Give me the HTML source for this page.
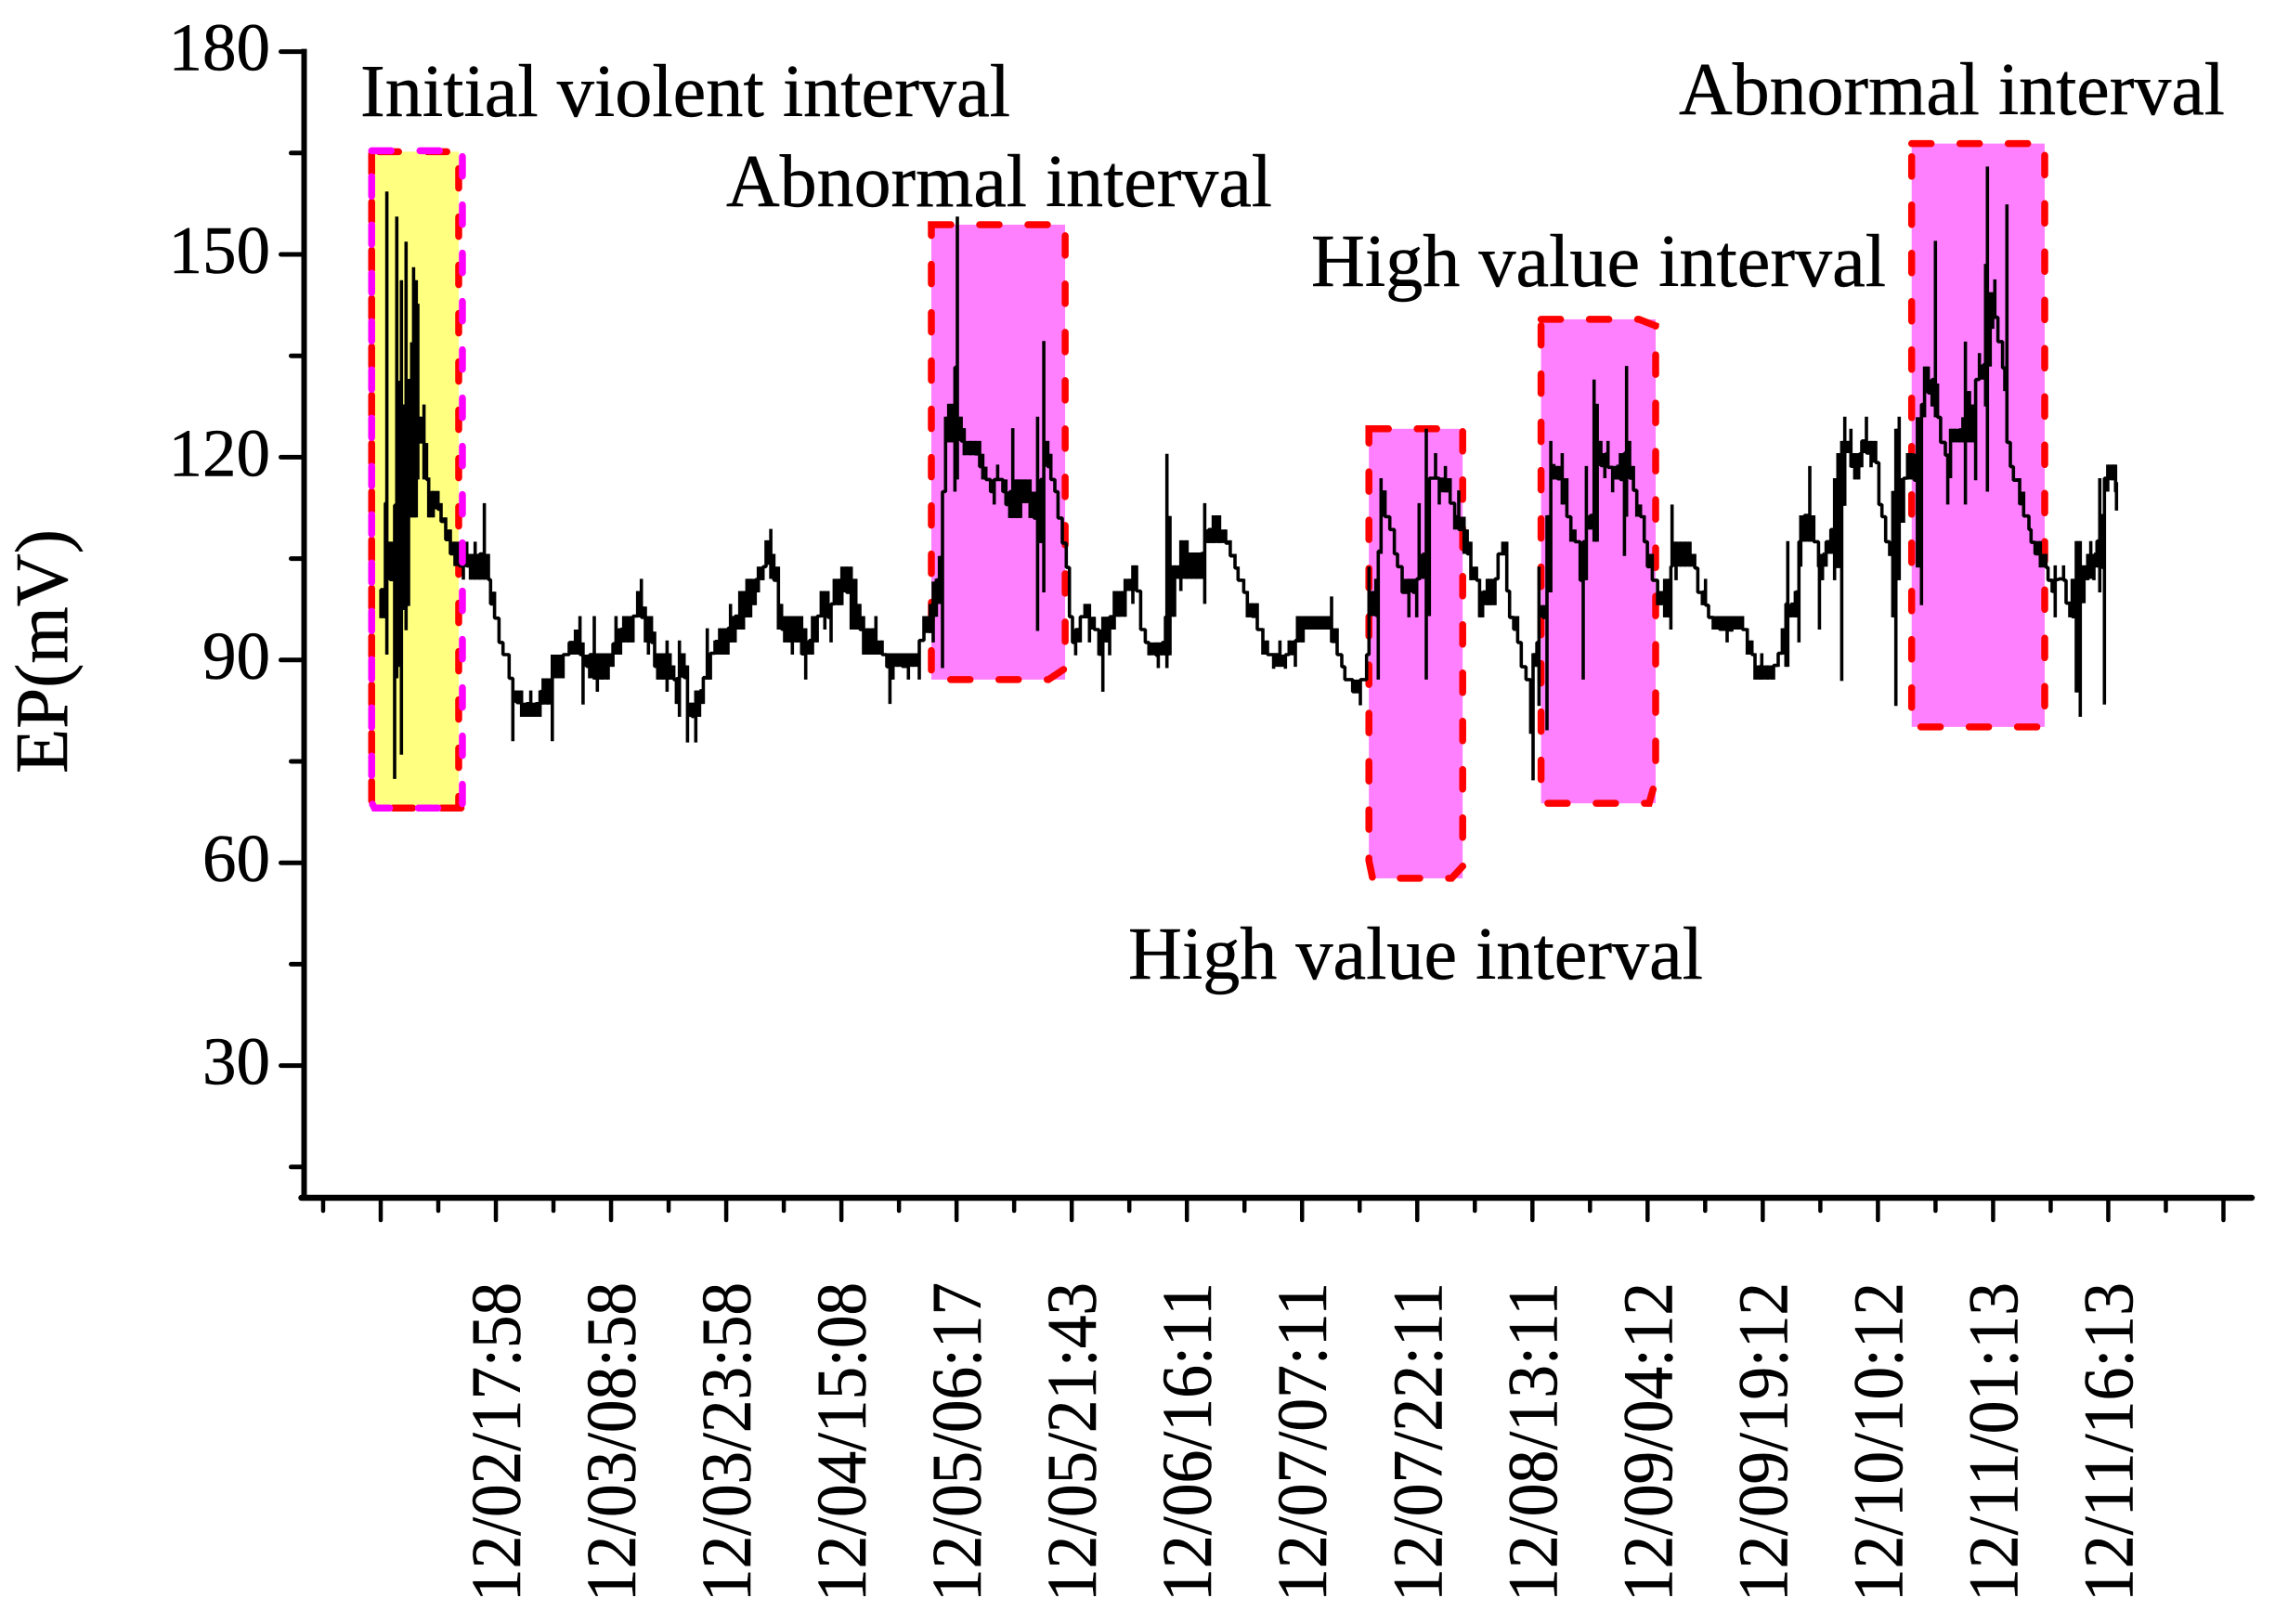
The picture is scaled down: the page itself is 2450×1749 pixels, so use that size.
<!DOCTYPE html>
<html lang="en">
<head>
<meta charset="utf-8">
<title>EP(mV) time series with highlighted intervals</title>
<style>
html,body{margin:0;padding:0;background:#fff}
svg{display:block}
text{font-family:"Liberation Serif",serif;fill:#000;stroke:#000;stroke-width:.5}
</style>
</head>
<body>
<svg id="chart" xmlns="http://www.w3.org/2000/svg" width="2450" height="1749" viewBox="0 0 2450 1749">
<rect x="0" y="0" width="2450" height="1749" fill="#ffffff"/>
<g id="boxes"></g>
<g id="series"></g>
<g id="over"></g>
<g id="axes"></g>
<text transform="translate(72,833) rotate(-90)" font-size="80" textLength="263" lengthAdjust="spacingAndGlyphs">EP(mV)</text>
<text x="388" y="125" font-size="80" textLength="700" lengthAdjust="spacingAndGlyphs">Initial violent interval</text>
<text x="782" y="222" font-size="80" textLength="588" lengthAdjust="spacingAndGlyphs">Abnormal interval</text>
<text x="1412" y="308" font-size="80" textLength="619" lengthAdjust="spacingAndGlyphs">High value interval</text>
<text x="1808" y="123" font-size="80" textLength="588" lengthAdjust="spacingAndGlyphs">Abnormal interval</text>
<text x="1215" y="1054" font-size="80" textLength="619" lengthAdjust="spacingAndGlyphs">High value interval</text>
</svg>
<script>
// ---- chart data ----
const xCategoryLabels = ["12/02/17:58","12/03/08:58","12/03/23:58","12/04/15:08","12/05/06:17","12/05/21:43","12/06/16:11","12/07/07:11","12/07/22:11","12/08/13:11","12/09/04:12","12/09/19:12","12/10/10:12","12/11/01:13","12/11/16:13"];
const yTickLabels = [180,150,120,90,60,30];
const yMinorTicks = [165,135,105,75,45,15];

const intervalNames = ["initial-violent","abnormal-1","high-value-1","high-value-2","abnormal-2"];
const intervalStart = [-1.3,71.5,128.4,150.8,199];
const intervalEnd = [10.02,88.9,140.6,165.7,216.3];
const intervalTop = [165.2,154.4,124.2,140.4,166.4];
const intervalBottom = [68.1,87.1,57.7,68.8,80.1];

const hours = [
-0.1,0.48,0.68,1.09,1.69,1.97,2.29,2.57,2.9,3.18,3.5,3.9,4.15,4.51,4.71,4.99,5.51,5.84,6.12,6.72,7.33,7.73,8.33,8.94,9.54,10.14,10.63,11.07,11.55,12.16,12.76,13.36,13.89,14.17,14.69,15.26,15.78,16.58,17.07,17.59,18.2,18.8,19.4,20,20.6,21,21.6,22.2,22.8,23.6,24.4,25.2,25.8,26.2,26.65,27.05,
27.66,28.06,28.67,29.47,30.08,30.48,31.08,31.48,32.09,32.69,33.3,33.78,34.3,34.7,35.1,35.51,35.91,36.52,37.12,37.52,38,38.33,38.73,39.33,39.78,40.34,40.86,41.35,41.83,42.35,42.76,43.36,43.96,44.57,45.05,45.37,45.98,46.58,47.06,47.51,47.99,48.59,49,49.6,50,50.61,51.01,51.61,52.02,52.42,53.02,53.42,54.03,54.63,55.16,55.64,56.04,56.65,57.17,57.65,58.05,58.46,58.86,59.46,59.87,60.47,61.07,61.68,62.2,62.68,63.29,63.89,64.29,65.1,65.7,66.11,66.51,67.11,67.72,68.52,69.13,69.93,70.53,
71.34,71.74,72.15,72.55,72.95,73.35,73.76,74.16,74.56,74.88,75.37,75.77,76.57,77.18,77.78,78.19,78.59,79.19,79.67,80.12,80.8,81.2,81.69,82.09,82.61,83.1,83.7,84.34,84.83,85.31,85.71,86.12,86.64,87.04,87.56,87.97,88.53,89.05,89.46,89.86,90.26,90.87,91.47,92.07,92.68,93.28,93.8,94.29,94.69,95.29,95.9,96.7,97.31,97.71,98.19,98.72,99.32,99.8,100.73,101.01,101.53,101.94,102.14,102.54,103.14,103.75,103.95,104.76,105.36,105.96,106.57,107.05,
107.57,108.17,108.98,109.78,110.38,110.99,111.39,112.12,112.6,113.2,113.89,114.61,115.22,116.02,116.83,117.55,118.03,118.84,119.12,119.85,120.65,121.25,122.06,122.66,123.55,124.27,124.88,125.28,126.29,127.29,128.1,128.42,128.7,129.31,129.63,129.99,130.51,131.12,131.72,132.12,132.73,133.61,134.14,134.62,134.94,135.34,135.87,136.27,137.08,137.56,138.36,138.97,139.57,140.1,140.78,
141.19,141.67,142.4,142.8,143.2,143.8,144.21,144.81,145.21,145.82,146.34,146.7,147.23,147.75,148.23,148.84,149.44,149.76,150.25,150.53,151.05,151.57,152.06,152.46,152.94,153.55,154.15,154.67,155.2,155.88,156.28,156.69,157.21,157.69,158.1,158.58,159.1,159.5,160.11,160.59,161.11,161.64,161.92,162.32,162.81,163.25,163.73,164.22,164.62,165.26,165.95,166.35,166.87,167.36,167.68,167.84,168.36,168.97,169.57,170.17,170.78,171.18,171.78,172.19,172.59,173.19,174,175,
175.6,176.21,177.01,177.62,178.22,178.62,179.23,179.51,180.23,181.04,181.64,182.17,182.65,182.89,183.25,183.86,184.34,184.58,185.06,185.75,186.27,186.88,187,187.4,187.88,188.49,188.97,189.41,189.9,190.3,190.7,191.1,191.59,192.11,192.51,193.12,193.72,194.32,194.73,195.13,195.61,196.14,196.54,196.94,197.38,197.95,198.47,199.07,
199.35,199.75,200.28,200.68,201.16,201.65,202.09,202.37,202.77,203.38,203.7,204.06,204.58,205.19,205.67,205.99,206.52,207,207.32,207.81,208.33,208.61,208.85,209.21,209.54,209.82,210.22,210.82,211.11,211.39,211.83,212.23,213.04,213.56,214.25,214.53,215.05,215.74,216.46,216.74,217.27,217.67,218.15,218.76,219.08,219.56,219.88,220.41,220.93,221.41,221.9,222.3,222.7,223.1,223.47,223.79,224.07,224.51,225.12,225.52,225.64
];
const epLow = [
96.2,96.2,90.8,101.9,72.4,87.3,89,76,97.4,94.4,98,111.1,111.1,111.1,116.7,122.1,116.7,116.7,111.1,111.1,112.3,110.5,107.8,105.7,103.9,103.9,101.9,103.9,101.9,101.9,101.9,101.9,101.9,98.3,96.2,92.6,90.8,87.3,78,83.7,81.6,81.6,81.6,81.6,81.6,83.4,83.4,78,87.3,87.3,90.8,90.8,90.8,83.4,89,87.3,
87.1,85.3,87.1,87.1,89,90.8,90.8,92.6,92.6,92.6,96.3,96.3,92.6,90.8,92.6,89,87.1,87.1,85.3,87.1,87.1,83.5,81.6,87.4,77.8,81.6,77.8,81.6,83.5,87.1,87.1,90.8,90.8,90.8,90.8,92.6,92.6,94.5,94.5,96.3,96.3,98.1,100,101.8,104.1,102,101.8,94.5,94.5,92.6,92.6,90.8,92.6,90.8,87.1,90.8,90.8,92.6,96.3,94.5,96.3,92.6,98.1,98.1,98.1,100,94.5,94.5,94.5,90.8,90.8,90.8,90.8,90.8,89,83.5,87.1,89,89,87.1,89,87.1,92.9,
94,92.6,96.4,98.3,88.8,117.7,122.2,122.2,114.9,116.7,122.4,120.3,120.3,120.3,118.6,116.7,116.7,114.9,113,116.7,114.9,113,111,111,111,111,113.2,111,111,94.3,107.3,100,118.6,116.7,114.9,111,107.3,103.7,96.4,92.6,90.7,92.6,96.4,92.6,94.5,90.7,85.3,92.6,90.7,94.5,96.4,96.4,100.2,98.3,100.2,94.5,92.6,90.7,90.7,88.8,90.7,90.7,88.8,90.7,96.4,102,100.2,102,102,102,102,98.3,
107.3,107.3,107.3,107.3,105.4,103.6,101.8,100,96.3,96.3,94.5,90.8,90.8,88.7,89,88.7,90.8,89,92.6,92.6,94.5,94.5,94.5,94.5,92.6,90.8,89,87.1,85.3,83.3,87.1,91,96.5,96.5,87.1,105.7,111.2,109.3,105.7,103.8,100,96.3,100,96.3,101.8,102,87.1,96.5,116.9,113,114.8,113.2,109.3,109.3,105.7,
105.7,101.8,101.8,96.3,96.3,98.1,98.1,98.1,102,105.7,100.2,96.3,94.5,92.6,89,87.1,79.1,72.2,89,83.2,96.3,79.6,100,116.7,116.7,113,111.2,107.5,107.5,101.8,87.1,101.8,109.3,107.5,107.5,118.7,116.9,118.5,114.8,116.7,116.7,105.4,111.2,116.9,115.1,111.2,111.2,107.5,103.8,101.8,98.1,98.1,96.3,96.3,94.5,103.8,101.8,103.8,103.8,103.8,103.6,100,98.1,98.1,96.3,94.5,94.5,92.6,
94.2,94.5,94.5,90.8,90.8,87.1,87.1,87.1,87.1,87.1,89,90.8,89,89,96.3,96.3,92.6,103.8,107.5,107.5,107.5,103.8,94.5,101.8,103.8,105.7,101.8,103.6,86.9,112.8,120.6,118.5,116.7,116.7,118.5,120.6,118.5,119.2,113,111.2,107.5,105.4,96.3,83.2,101.8,110.3,116.7,116.7,
116.6,103.7,98.1,125.9,129.5,127.5,125.9,125.9,122.2,120.3,113,116.9,122.2,122.2,122.2,113,122.2,122.2,116.6,131.5,131.5,127.5,114.9,133.4,139,140.7,137.1,133.2,129.8,122.2,118.6,116.6,113,111.3,109.3,107.4,105.7,103.7,103.7,101.8,100,96.3,101.8,101.8,98.4,96.3,96.3,85.2,81.6,98.4,101.8,102,101.8,103.7,100,103.7,83.4,114.9,116.6,114.9,112.1
];
const epHigh = [
100.4,113.2,159.3,107.5,112.9,155.6,131.3,146.2,127.8,151.9,131.6,137,148.1,146.2,142.7,126,127.8,122.1,117,115,115,113.2,111.1,109.3,107.5,107.5,104,107.5,105.7,107.5,105.7,113.2,105.7,101.9,100.1,96.2,92.6,90.8,87.3,85.5,85.5,83.7,85.5,83.7,85.5,87.3,87.3,90.8,90.8,90.8,92.6,94.5,96.5,92.6,90.8,90.8,
96.5,91,91,91,92.4,96.5,94.7,96.5,96.5,96.5,100.2,102,97.9,96.5,96.5,94.2,91,91,92.9,91,89.2,87.4,92.9,91,89.2,83.7,85.5,85.5,87.4,94.7,91,92.9,94.7,94.7,94.7,98.3,96.5,100.2,100.2,102,102,102,103.8,103.8,107.7,109.4,105.7,103.8,98.3,96.5,96.5,96.5,96.5,96.5,94.7,92.9,96.5,96.5,100.2,100.2,100.2,98.3,102,102,103.8,103.8,103.8,102,98.3,96.5,94.7,94.7,96.5,92.9,91,91,91,91,91,91,91,92.9,96.5,
98.3,101.6,102,105.4,114.9,126,127.9,127.9,133.3,155.6,126,124.3,122.4,122.4,122.4,120.5,118.6,116.7,116.7,118.9,116.7,116.7,114.9,124.3,116.7,116.7,116.7,116.7,114.9,126,116.7,137.2,122.4,120.5,116.7,113,111,107.3,103.7,94.5,94.5,96.4,98.3,98.3,96.4,94.5,96.4,96.4,96.4,100.2,100.2,102,102,104,104,96.4,94.5,92.6,92.6,92.6,92.6,96.4,120.5,111.3,104,104,107.7,107.7,105.9,105.9,105.9,113.2,
109.3,111.4,111.4,109.3,107.7,105.7,103.8,102,100.2,98.4,98.4,94.7,92.9,90.8,92.9,90.8,92.9,92.9,96.5,96.5,96.5,96.5,96.5,96.5,99.4,94.7,90.8,89,87.1,87.1,90.8,103.8,100.2,102,106.1,116.9,115.1,111.2,107.5,105.7,102,102,102,102,113.2,105.7,124.2,116.9,120.6,116.9,118.7,116.9,111.2,115.1,111.2,
109.3,107.5,103.8,102,100.2,102,102,102,105.7,107.5,107.5,100.2,96.5,96.5,91,89,87.1,91,92.6,103.8,98.1,111.4,122.4,119,118.7,120.6,116.9,111.2,109.3,107.5,107.5,118.7,111.4,131.5,127.9,122.4,120.6,122.4,118.7,118.7,120.6,120.6,133.5,122.4,118.7,115.1,113,111.4,107.5,105.7,101.8,100.2,102,102,103.8,113,107.5,107.5,107.5,107.5,105.7,102,100.2,102,98.1,96.5,96.5,96.5,
96.5,96.5,96.5,94.7,92.9,91,89.2,91,89.2,89.2,91,94.7,98.3,107.6,98.3,100.2,107.5,111.4,111.4,118.7,111.4,107.5,105.7,105.7,107.5,109.3,116.9,120.6,122.4,126,122.4,124.2,120.6,120.6,122.4,126,122.4,122.4,115,113,111.2,107.5,115,124.2,126,116.9,120.6,120.6,
120.5,125.9,127.8,133.4,133.4,131.5,152,130.9,124.2,122.2,120.3,124.2,124.2,124.2,125.9,137.1,129.8,127.8,131.5,135.4,133.7,148.6,163,144.4,144.4,146.3,140.7,137.1,133.2,157.4,122.2,118.6,116.9,114.9,111.3,109.3,107.6,107.6,105.7,103.7,102,104,102,104,101.8,98.4,102,107.6,107.6,104,105.7,107.6,105.7,107.6,116.9,111.6,116.9,118.9,118.9,118.9,116.3
];

// ---- axis functions ----
const xScale = h => 411 + 8.28 * h;
const xCategory = i => 410 + 124.03 * i;
const yScale = v => 55.6 + (180 - v) * 7.28;
const NS = 'http://www.w3.org/2000/svg';
const AXIS_Y = 1290;
const AXIS_X = 327.5;

function make(parent, tag, attrs) {
  const n = document.createElementNS(NS, tag);
  for (const k in attrs) n.setAttribute(k, attrs[k]);
  parent.appendChild(n);
  return n;
}
function dashed(parent, d, color, offset) {
  return make(parent, 'path', {d: d, fill: 'none', stroke: color, 'stroke-width': 7.5,
    'stroke-linecap': 'round', 'stroke-linejoin': 'miter',
    'stroke-dasharray': '21 31', 'stroke-dashoffset': offset || 0});
}

// ---- interval boxes ----
const boxes = document.getElementById('boxes');
const over = document.getElementById('over');
// corner cuts [top-right x,y, bottom-right x,y, bottom-left x,y] are styling only
const cuts = [[0,0,0,0,0,0],[0,0,18,12,0,0],[0,0,12,13,4,19],[18,7,7,25,3,3],[0,0,0,0,0,0]];
intervalNames.forEach((name, i) => {
  const x0 = xScale(intervalStart[i]), x1 = xScale(intervalEnd[i]);
  const y0 = yScale(intervalTop[i]), y1 = yScale(intervalBottom[i]);
  const isFirst = i === 0;
  const fill = make(boxes, 'rect', {x: x0, y: y0, width: x1 - x0, height: y1 - y0, fill: isFirst ? '#FFFF80' : '#FF80FF'});
  
  
  if (isFirst) {
    const redA = dashed(boxes, `M${x0},${y0}L${x1},${y0}L${x1},${y1}`, '#FF0000', -8);
    
    
    const w = x1 + 4 - x0, h = y1 - y0;
    const redB = dashed(boxes, `M${x1 + 4},${y1}L${x0},${y1}L${x0},${y0}`, '#FF0000', w + h + 26);
    
    
    const mag = dashed(over, `M${x0},${y0 - 1}L${x1 + 4},${y0 - 1}L${x1 + 4},${y1}L${x0 + 3},${y1}L${x0},${y1 - 6}Z`, '#FF00FF', 0);
    
    
  } else {
    const c = cuts[i];
    const pts = [[x0, y0], [x1 - c[0], y0]];
    if (c[0]) pts.push([x1, y0 + c[1]]);
    pts.push([x1, y1 - c[3]]);
    if (c[2]) pts.push([x1 - c[2], y1]);
    pts.push([x0 + c[4], y1]);
    if (c[4]) pts.push([x0, y1 - c[5]]);
    const d = 'M' + pts.map(p => p[0].toFixed(1) + ',' + p[1].toFixed(1)).join('L') + 'Z';
    const border = dashed(boxes, d, '#FF0000', 0);
    
    
  }
});

// ---- EP series: stepped, quantised trace; each bucket spans its low/high readings ----
const seriesGroup = document.getElementById('series');
let bandPath = '';
let stepPath = '';
hours.forEach((h, i) => {
  const x = xScale(h).toFixed(1);
  const yl = yScale(epLow[i]).toFixed(1), yh = yScale(epHigh[i]).toFixed(1);
  stepPath += (i ? 'L' : 'M') + x + ',' + yl + 'L' + x + ',' + yh;
  if (i + 1 < hours.length) {
    const midNext = (epLow[i + 1] + epHigh[i + 1]) / 2;
    const exit = Math.min(epHigh[i], Math.max(epLow[i], midNext));
    const ye = yScale(exit).toFixed(1);
    const xn = xScale(hours[i + 1]).toFixed(1);
    stepPath += 'L' + x + ',' + ye + 'L' + xn + ',' + ye;
    const bandLow = Math.max(epLow[i], epLow[i + 1]);
    const bandHigh = Math.min(epHigh[i], epHigh[i + 1]);
    if (bandHigh > bandLow) {
      bandPath += 'M' + x + ',' + yScale(bandHigh).toFixed(1) + 'H' + xn + 'V' + yScale(bandLow).toFixed(1) + 'H' + x + 'Z';
    }
  }
});
const band = make(seriesGroup, 'path', {d: bandPath, fill: '#000'});


const line = make(seriesGroup, 'path', {d: stepPath, fill: 'none', stroke: '#000', 'stroke-width': 3.6, 'stroke-linejoin': 'bevel'});



// ---- axes ----
const axes = document.getElementById('axes');
const yAxis = make(axes, 'line', {x1: AXIS_X, y1: yScale(180) - 3, x2: AXIS_X, y2: AXIS_Y + 3, stroke: '#000', 'stroke-width': 6});


const xAxis = make(axes, 'line', {x1: AXIS_X - 3, y1: AXIS_Y, x2: 2425, y2: AXIS_Y, stroke: '#000', 'stroke-width': 6.5, 'stroke-linecap': 'round'});



yTickLabels.forEach(v => {
  const y = yScale(v);
  const t = make(axes, 'line', {x1: AXIS_X - 25, y1: y, x2: AXIS_X, y2: y, stroke: '#000', 'stroke-width': 5, 'stroke-linecap': 'round'});
  
  
  const l = make(axes, 'text', {x: 291, y: y + 20, 'font-size': 73, 'text-anchor': 'end'});
  l.textContent = v;
  
  
});
yMinorTicks.forEach(v => {
  const y = yScale(v);
  const t = make(axes, 'line', {x1: AXIS_X - 14, y1: y, x2: AXIS_X, y2: y, stroke: '#000', 'stroke-width': 5, 'stroke-linecap': 'round'});
  
  
});

for (let i = 0; i <= xCategoryLabels.length + 1; i++) {
  const x = xCategory(i);
  const t = make(axes, 'line', {x1: x, y1: AXIS_Y, x2: x, y2: AXIS_Y + 24, stroke: '#000', 'stroke-width': 4.5, 'stroke-linecap': 'round'});
  
  
  const xm = xCategory(i - 0.5);
  const m = make(axes, 'line', {x1: xm, y1: AXIS_Y, x2: xm, y2: AXIS_Y + 14, stroke: '#000', 'stroke-width': 4.5, 'stroke-linecap': 'round'});
  
  
}
xCategoryLabels.forEach((label, i) => {
  const x = xCategory(i + 1) + 26;
  const l = make(axes, 'text', {transform: `translate(${x.toFixed(1)},1725) rotate(-90)`, 'font-size': 76, textLength: 344, lengthAdjust: 'spacingAndGlyphs'});
  l.textContent = label;
  
  
});
</script>
</body>
</html>
